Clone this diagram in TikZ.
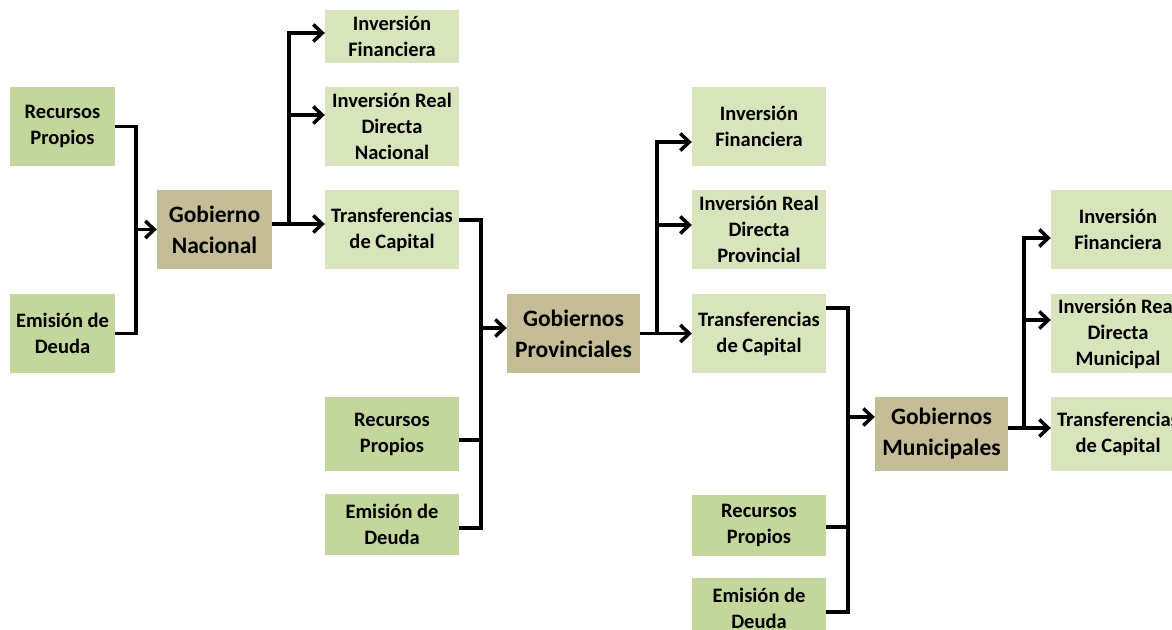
\documentclass[tikz,border=0pt]{standalone}
\usepackage{fontspec}
\setmainfont{Carlito}
\usetikzlibrary{arrows.meta}
\definecolor{verdeosc}{HTML}{C3D69B}
\definecolor{verdecla}{HTML}{D8E4BC}
\definecolor{pardo}{HTML}{C4BD97}

\begin{document}
\begin{tikzpicture}[x=1pt,y=-1pt,
  caja/.style={inner sep=0pt,align=center,font=\bfseries\fontsize{20.5}{26}\selectfont,
    minimum width=134pt,minimum height=79pt},
  fuente/.style={caja,fill=verdeosc},
  destino/.style={caja,fill=verdecla},
  gob/.style={caja,fill=pardo,font=\bfseries\fontsize{23.5}{31}\selectfont,minimum width=133pt},
  linea/.style={line width=3.5pt},
  flecha/.style={linea,-{Straight Barb[length=9pt,width=17pt]}}]
  \useasboundingbox (0,0) rectangle (1172,629);
  \clip (0,0) rectangle (1172,629);
  % nivel nacional
  \node[fuente,minimum width=105pt] (rp1) at (62.5,126.5) {Recursos\\Propios};
  \node[fuente,minimum width=105pt] (ed1) at (62.5,333.5) {Emisión de\\Deuda};
  \node[gob,minimum width=115pt] (gn) at (214.5,229.5) {Gobierno\\Nacional};
  \node[destino,minimum height=53pt] (if1) at (392,36.5) {Inversión\\Financiera};
  \node[destino] (ir1) at (392,126.5) {Inversión Real\\Directa\\Nacional};
  \node[destino] (tc1) at (392,229.5) {Transferencias\\de Capital};
  % nivel provincial
  \node[fuente,minimum height=74pt] (rp2) at (392,434) {Recursos\\Propios};
  \node[fuente,minimum height=61pt] (ed2) at (392,524.5) {Emisión de\\Deuda};
  \node[gob] (gp) at (573.5,333.5) {Gobiernos\\Provinciales};
  \node[destino] (if2) at (759,126.5) {Inversión\\Financiera};
  \node[destino] (ir2) at (759,229.5) {Inversión Real\\Directa\\Provincial};
  \node[destino] (tc2) at (759,333.5) {Transferencias\\de Capital};
  % nivel municipal
  \node[fuente,minimum height=61pt] (rp3) at (759,525) {Recursos\\Propios};
  \node[fuente,minimum height=61pt] (ed3) at (759,608.5) {Emisión de\\Deuda};
  \node[gob,minimum height=74pt] (gm) at (941.5,434) {Gobiernos\\Municipales};
  \node[destino] (if3) at (1118,229.5) {Inversión\\Financiera};
  \node[destino] (ir3) at (1118,333.5) {Inversión Real\\Directa\\Municipal};
  \node[destino,minimum height=74pt] (tc3) at (1118,434) {Transferencias\\de Capital};

  % hacia el Gobierno Nacional
  \draw[linea] (rp1.east) -- ++(21,0) coordinate (s1) -- (s1 |- ed1.east) -- (ed1.east);
  \draw[flecha] (s1 |- gn.west) -- (gn.west);
  \draw[linea] ([yshift=5.5pt]gn.east) -- ++(17,0) coordinate (t1);
  \draw[flecha] (t1) |- ([yshift=3.5pt]if1.west);
  \draw[flecha] (t1) |- ([yshift=11.5pt]ir1.west);
  \draw[flecha] (t1) -- (t1 -| tc1.west);
  % hacia los Gobiernos Provinciales
  \draw[linea] ([yshift=9.5pt]tc1.east) -- ++(22,0) coordinate (s2) |- ([yshift=-3.5pt]ed2.east);
  \draw[linea] ([yshift=-6pt]rp2.east) -| (s2);
  \coordinate (e2) at ([yshift=5.5pt]gp.west);
  \draw[flecha] (s2 |- e2) -- (e2);
  \draw[linea] (gp.east) -- ++(17,0) coordinate (t2);
  \draw[flecha] (t2) |- ([yshift=-15.5pt]if2.west);
  \draw[flecha] (t2) |- ([yshift=4.5pt]ir2.west);
  \draw[flecha] (t2) -- (t2 -| tc2.west);
  % hacia los Gobiernos Municipales
  \draw[linea] ([yshift=25.5pt]tc2.east) -- ++(22,0) coordinate (s3) |- ([yshift=-3.5pt]ed3.east);
  \draw[linea] ([yshift=-2pt]rp3.east) -| (s3);
  \coordinate (e3) at ([yshift=17pt]gm.west);
  \draw[flecha] (s3 |- e3) -- (e3);
  \draw[linea] ([yshift=6pt]gm.east) -- ++(16,0) coordinate (t3);
  \draw[flecha] (t3) |- ([yshift=-8.5pt]if3.west);
  \draw[flecha] (t3) |- ([yshift=13.5pt]ir3.west);
  \draw[flecha] (t3) -- (t3 -| tc3.west);
\end{tikzpicture}
\end{document}
